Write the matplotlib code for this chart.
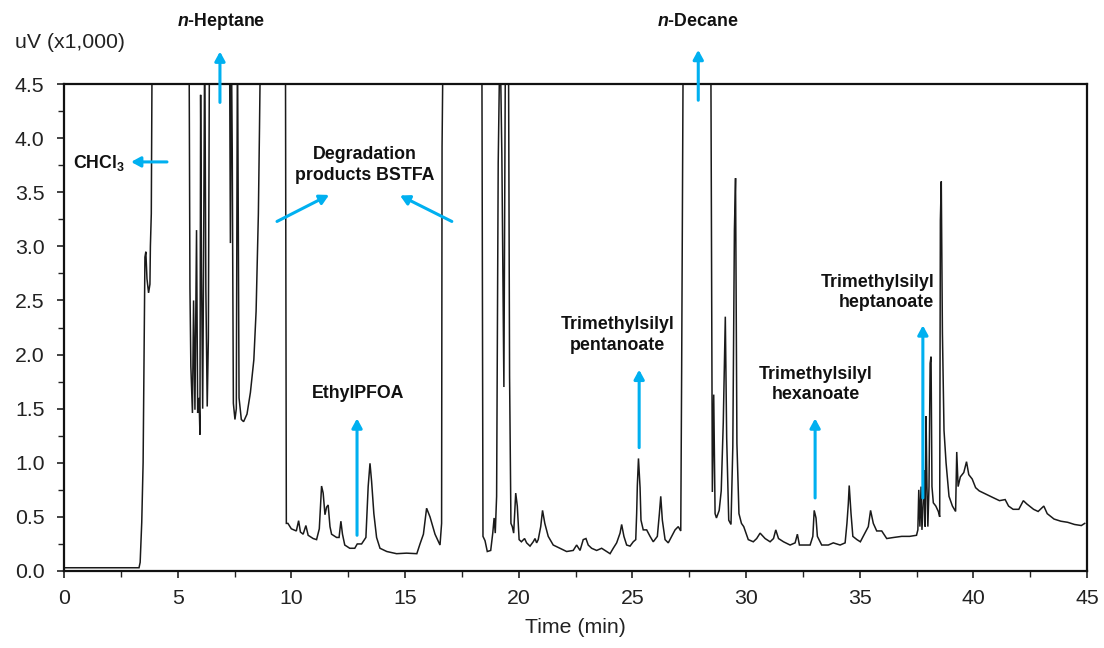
import matplotlib
matplotlib.use("Agg")
import matplotlib.pyplot as plt
import numpy as np

plt.rcParams['font.family'] = ['Liberation Sans', 'DejaVu Sans']
plt.rcParams['mathtext.fontset'] = 'custom'
plt.rcParams['mathtext.rm'] = 'Liberation Sans'
plt.rcParams['mathtext.bf'] = 'Liberation Sans:bold'
plt.rcParams['mathtext.it'] = 'Liberation Sans:bold:italic'

# ---- chromatogram trace (time in min, signal in uV x1000; 5.0 = off-scale) ----
time_min = [
    0.0, 3.30, 3.35, 3.42, 3.48, 3.52, 3.56, 3.60, 3.65, 3.72, 3.78, 3.80, 3.84, 3.88,
    5.50, 5.54, 5.58, 5.65, 5.70, 5.76, 5.83, 5.88, 5.94, 5.98, 6.01, 6.05, 6.10, 6.14,
    6.19, 6.24, 6.30, 6.35, 6.40,
    7.28, 7.32, 7.36, 7.40, 7.45, 7.52, 7.58, 7.63, 7.70, 7.80, 7.90, 8.05, 8.20, 8.35,
    8.45, 8.55, 8.60, 8.65,
    9.74, 9.78, 9.85, 10.00, 10.22, 10.32, 10.40, 10.52, 10.64, 10.74, 10.96, 11.11,
    11.23, 11.33, 11.40, 11.48, 11.55, 11.62, 11.70, 11.77, 11.99, 12.10, 12.18, 12.25,
    12.35, 12.57, 12.79, 12.90, 13.09, 13.28, 13.38, 13.46, 13.53, 13.63, 13.75, 13.90,
    14.20, 14.63, 15.07, 15.52, 15.66, 15.81, 15.95, 16.10, 16.32, 16.54, 16.61, 16.63,
    16.68,
    18.38, 18.43, 18.52, 18.62, 18.77, 18.86, 18.92, 18.97, 19.03, 19.10, 19.18, 19.26,
    19.30, 19.35, 19.42, 19.55, 19.60, 19.66, 19.72, 19.78, 19.87, 19.94, 20.02, 20.12,
    20.26, 20.35, 20.50, 20.64, 20.72, 20.79, 20.86, 20.97, 21.05, 21.15, 21.30, 21.52,
    21.82, 22.11, 22.40, 22.55, 22.70, 22.84, 22.96, 23.06, 23.21, 23.43, 23.65, 23.87,
    24.02, 24.16, 24.31, 24.46, 24.53, 24.63, 24.75, 24.90, 25.04, 25.15, 25.19, 25.22,
    25.27, 25.34, 25.38, 25.48, 25.63, 25.78, 25.92, 26.10, 26.19, 26.25, 26.32, 26.44,
    26.58, 26.73, 26.88, 27.02, 27.13, 27.17, 27.24,
    28.45, 28.52, 28.58, 28.64, 28.70, 28.82, 28.91, 29.00, 29.09, 29.15, 29.24, 29.34,
    29.42, 29.49, 29.54, 29.60, 29.69, 29.80, 29.90, 30.00, 30.10, 30.32, 30.47, 30.62,
    30.84, 31.06, 31.21, 31.31, 31.43, 31.65, 31.94, 32.16, 32.26, 32.35, 32.53, 32.82,
    32.94, 33.00, 33.08, 33.14, 33.33, 33.62, 33.84, 34.14, 34.36, 34.44, 34.50, 34.54,
    34.62, 34.70, 34.88, 35.03, 35.38, 35.48, 35.60, 35.75, 35.97, 36.19, 36.50, 36.85,
    37.20, 37.50, 37.56, 37.60, 37.65, 37.70, 37.74, 37.80, 37.85, 37.88, 37.92, 37.96,
    38.00, 38.05, 38.10, 38.14, 38.18, 38.24, 38.35, 38.46, 38.52, 38.55, 38.59, 38.64,
    38.71, 38.80, 38.93, 39.08, 39.22, 39.27, 39.33, 39.43, 39.58, 39.70, 39.80, 39.95,
    40.10, 40.26, 40.55, 40.85, 41.15, 41.40, 41.55, 41.75, 42.00, 42.20, 42.35, 42.65,
    42.85, 43.10, 43.25, 43.55, 43.85, 44.15, 44.45, 44.75, 44.90,
]
signal = [
    0.03, 0.03, 0.08, 0.45, 1.00, 2.00, 2.90, 2.95, 2.70, 2.57, 2.65, 3.00, 3.30, 5.0,
    5.0, 2.62, 1.89, 1.46, 2.50, 1.49, 3.15, 1.46, 1.60, 1.26, 4.40, 2.75, 1.50, 2.85,
    5.0, 2.60, 1.52, 2.15, 5.0,
    5.0, 3.03, 5.0, 3.90, 1.55, 1.40, 1.50, 5.0, 1.60, 1.40, 1.38, 1.45, 1.65, 1.95,
    2.40, 3.30, 4.10, 5.0,
    5.0, 0.44, 0.44, 0.39, 0.37, 0.465, 0.36, 0.34, 0.42, 0.33, 0.30, 0.29,
    0.39, 0.785, 0.72, 0.52, 0.59, 0.61, 0.41, 0.34, 0.31, 0.31, 0.46, 0.34,
    0.24, 0.21, 0.21, 0.25, 0.25, 0.31, 0.78, 0.995, 0.83, 0.53, 0.31, 0.21,
    0.18, 0.16, 0.165, 0.16, 0.25, 0.34, 0.58, 0.50, 0.34, 0.24, 0.44, 3.92,
    5.0,
    5.0, 0.32, 0.28, 0.18, 0.19, 0.35, 0.49, 0.35, 0.69, 3.77, 5.0, 3.85,
    2.90, 1.70, 5.0, 5.0, 1.80, 0.44, 0.41, 0.35, 0.72, 0.60, 0.29, 0.27,
    0.30, 0.26, 0.23, 0.27, 0.30, 0.26, 0.29, 0.41, 0.56, 0.44, 0.32, 0.24,
    0.21, 0.18, 0.19, 0.24, 0.19, 0.29, 0.30, 0.24, 0.21, 0.19, 0.21, 0.18,
    0.16, 0.21, 0.26, 0.35, 0.43, 0.32, 0.24, 0.23, 0.27, 0.29, 0.53, 0.79,
    1.04, 0.77, 0.47, 0.38, 0.38, 0.32, 0.27, 0.32, 0.53, 0.69, 0.47, 0.29,
    0.26, 0.32, 0.38, 0.41, 0.37, 1.87, 5.0,
    5.0, 0.73, 1.63, 0.53, 0.49, 0.56, 0.74, 1.37, 2.35, 1.23, 0.47, 0.43,
    1.15, 3.15, 3.63, 1.18, 0.53, 0.44, 0.41, 0.35, 0.29, 0.27, 0.30, 0.35,
    0.30, 0.27, 0.30, 0.38, 0.30, 0.27, 0.24, 0.26, 0.34, 0.24, 0.24, 0.24,
    0.32, 0.56, 0.49, 0.32, 0.24, 0.24, 0.26, 0.24, 0.26, 0.44, 0.62, 0.79,
    0.53, 0.32, 0.29, 0.27, 0.41, 0.56, 0.44, 0.37, 0.37, 0.30, 0.31, 0.32,
    0.32, 0.33, 0.38, 0.75, 0.41, 0.78, 0.38, 0.64, 0.93, 0.41, 1.43, 0.78,
    0.41, 0.78, 1.92, 1.98, 0.78, 0.63, 0.60, 0.55, 0.50, 3.24, 3.60, 2.20,
    1.30, 1.00, 0.69, 0.60, 0.55, 1.10, 0.78, 0.87, 0.91, 1.01, 0.89, 0.85,
    0.77, 0.74, 0.71, 0.68, 0.65, 0.66, 0.60, 0.57, 0.57, 0.65, 0.62, 0.57,
    0.55, 0.60, 0.53, 0.48, 0.46, 0.45, 0.43, 0.42, 0.44,
]

x_ticks = [0, 5, 10, 15, 20, 25, 30, 35, 40, 45]
y_ticks = [0.0, 0.5, 1.0, 1.5, 2.0, 2.5, 3.0, 3.5, 4.0, 4.5]

ARROW = '#00B0F0'

fig = plt.figure(figsize=(11.04, 6.48), dpi=100)
ax = fig.add_axes([64/1104, 1-571/648, (1087-64)/1104, (571-84)/648])

ax.plot(time_min, signal, color='#1a1a1a', lw=1.1, solid_joinstyle='miter')

ax.set_xlim(0, 45)
ax.set_ylim(0, 4.5)
ax.set_xticks(x_ticks)
ax.set_yticks(y_ticks)
ax.set_xticklabels([str(v) for v in x_ticks])
ax.set_yticklabels([f"{v:.1f}" for v in y_ticks])
ax.set_xticks(np.arange(0, 45.1, 2.5), minor=True)
ax.set_yticks(np.arange(0, 4.51, 0.25), minor=True)
ax.tick_params(axis='both', which='major', direction='out', length=5, width=1.2,
               labelsize=15.3, pad=8, colors='#222222')
ax.tick_params(axis='both', which='minor', direction='out', length=4.5, width=1.0,
               colors='#222222')
ax.tick_params(axis='y', which='major', pad=9)
for s in ax.spines.values():
    s.set_linewidth(1.6)
    s.set_color('#111111')

ax.set_xlabel('Time (min)', fontsize=15.3, color='#222222', labelpad=7)
fig.text(15/1104, 1-43/648, 'uV (x1,000)', fontsize=15.3, ha='left', va='center',
         color='#222222')

def arrow(x0, y0, x1, y1):
    ax.annotate('', xy=(x1, y1), xytext=(x0, y0), annotation_clip=False,
                arrowprops=dict(arrowstyle='-|>,head_length=0.55,head_width=0.3',
                                color=ARROW, lw=2.2, shrinkA=0, shrinkB=0))

lbl = dict(fontsize=12.8, fontweight='bold', color='#111111', clip_on=False)

# n-Heptane
ax.text(6.90, 5.08, r'$\mathit{n}$-Heptane', ha='center', va='center', **lbl)
arrow(6.86, 4.33, 6.86, 4.80)
# n-Decane
ax.text(27.87, 5.08, r'$\mathit{n}$-Decane', ha='center', va='center', **lbl)
arrow(27.9, 4.35, 27.9, 4.815)
# CHCl3
ax.text(0.38, 3.77, r'CHCl$_\mathbf{3}$', ha='left', va='center', **lbl)
arrow(4.53, 3.78, 2.95, 3.78)
# Degradation products
ax.text(13.24, 3.75, 'Degradation\nproducts BSTFA', ha='center', va='center',
        linespacing=1.3, **lbl)
arrow(9.37, 3.23, 11.66, 3.475)
arrow(17.06, 3.23, 14.78, 3.47)
# EthylPFOA
ax.text(12.93, 1.636, 'EthylPFOA', ha='center', va='center', **lbl)
arrow(12.89, 0.33, 12.89, 1.41)
# pentanoate
ax.text(24.35, 2.18, 'Trimethylsilyl\npentanoate', ha='center', va='center',
        linespacing=1.25, **lbl)
arrow(25.30, 1.14, 25.30, 1.86)
# hexanoate
ax.text(33.07, 1.72, 'Trimethylsilyl\nhexanoate', ha='center', va='center',
        linespacing=1.25, **lbl)
arrow(33.04, 0.675, 33.04, 1.41)
# heptanoate
ax.text(38.27, 2.574, 'Trimethylsilyl\nheptanoate', ha='right', va='center',
        linespacing=1.25, multialignment='right', **lbl)
arrow(37.78, 0.675, 37.78, 2.27)

fig.savefig('out.png', dpi=100, facecolor='white')
